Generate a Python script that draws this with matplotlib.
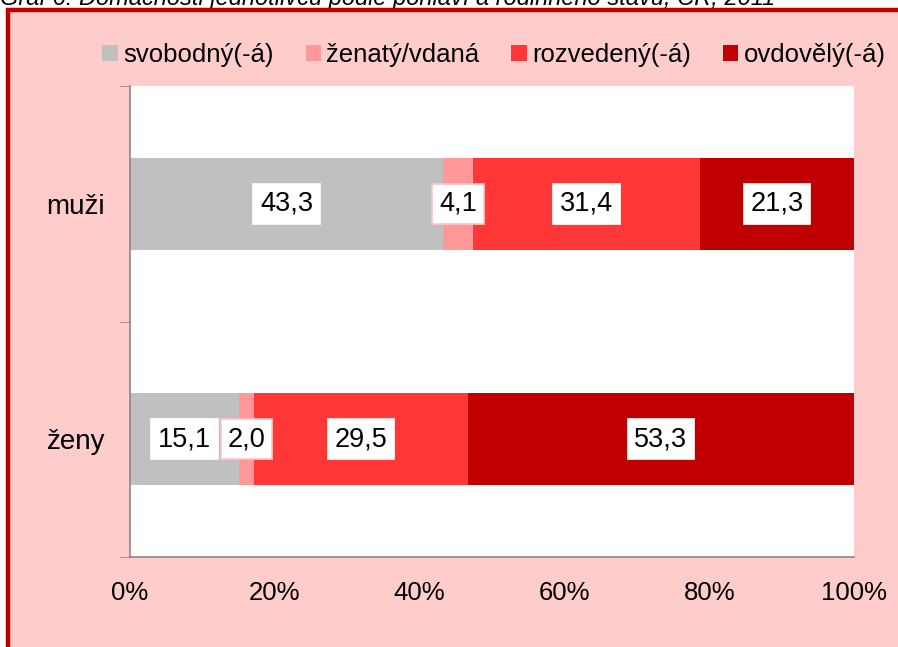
import numpy as np
from matplotlib import pyplot as plt
from matplotlib.patches import Rectangle, Patch
from matplotlib.lines import Line2D

# =============================================================================

title      = "Graf 6: Domácnosti jednotlivců podle pohlaví a rodinného stavu, ČR, 2011"
categories = ["ženy", "muži"]
series     = ["svobodný(-á)", "ženatý/vdaná", "rozvedený(-á)", "ovdovělý(-á)"]
values     = {
	"svobodný(-á)":  [15.1, 43.3],
	"ženatý/vdaná":  [ 2.0,  4.1],
	"rozvedený(-á)": [29.5, 31.4],
	"ovdovělý(-á)":  [53.3, 21.3],
}
xticks     = [0, 20, 40, 60, 80, 100]

colors = ["#C0C0C0", "#FF9999", "#FF3737", "#C00000"]
edges  = ["white", "#FFC4C4", "white", "white"]

# =============================================================================

plt.rcParams['font.family'] = ['Liberation Sans', 'DejaVu Sans']

fig = plt.figure(figsize=(8.98, 6.47), dpi=100)
fig.patch.set_facecolor("white")

# pink frame with dark red border on the left and top only
x0, y0 = 7.5/898, 1 - 9.5/647
fig.patches.append(Rectangle((x0, -0.1), 1.2, y0 + 0.1, transform=fig.transFigure,
	facecolor="#FFCCCC", edgecolor='none', zorder=-10))
fig.lines.append(Line2D([x0, x0, 1.1], [-0.1, y0, y0], transform=fig.transFigure,
	color="#C00000", linewidth=3.2, solid_joinstyle='miter', zorder=-9))
fig.text(0.0, 1 - 5/647, title, style='italic', fontsize=17, va='baseline', ha='left', zorder=-11)

ax = fig.add_axes([130/898, 1 - 557/647, 724/898, 471/647])
ax.set_facecolor("white")

data   = np.array([values[s] for s in series])
totals = data.sum(axis=0)
shares = data / totals * 100
y      = np.arange(len(categories))

left = np.zeros(len(categories))
for i, s in enumerate(series):
	ax.barh(y, shares[i], left=left, height=0.39, color=colors[i], label=s, zorder=2)
	for j in range(len(categories)):
		ax.text(left[j] + shares[i, j] / 2, y[j], ("%.1f" % data[i, j]).replace(".", ","),
			ha='center', va='center', fontsize=19.5, zorder=4,
			bbox=dict(boxstyle='square,pad=0.25', facecolor='white', edgecolor=edges[i], linewidth=1.2))
	left += shares[i]

ax.set_xlim(0, 100)
ax.set_ylim(-0.5, 1.5)

ax.set_xticks(xticks)
ax.set_xticklabels(["%d%%" % t for t in xticks], fontsize=18.5)
ax.set_xticks([0, 40, 60, 80, 100], minor=True)
ax.tick_params(axis='x', which='major', length=0, pad=17)
ax.tick_params(axis='x', which='minor', length=7, color="#888888", direction='out')

ax.set_yticks(y)
ax.set_yticklabels(categories, fontsize=20)
ax.set_yticks([-0.5, 0.5, 1.5], minor=True)
ax.tick_params(axis='y', which='major', length=0, pad=18)
ax.tick_params(axis='y', which='minor', length=7, color="#888888", direction='out')

ax.grid(axis='x', which='minor', linestyle=(0, (4, 4)), color="#999999", linewidth=1, zorder=1)
ax.set_axisbelow(True)

for side in ['top', 'right']:
	ax.spines[side].set_visible(False)
for side in ['left', 'bottom']:
	ax.spines[side].set_color("#888888")
	ax.spines[side].set_linewidth(1.2)

handles = [Patch(facecolor=c, edgecolor='none') for c in colors]
fig.legend(handles, series, loc='center', bbox_to_anchor=(494/898, 1 - 55/647), ncol=4,
	frameon=False, fontsize=18.5, handlelength=0.6, handleheight=0.6, handletextpad=0.2,
	columnspacing=1.25, borderpad=0)

plt.savefig("out.png", dpi=100)
